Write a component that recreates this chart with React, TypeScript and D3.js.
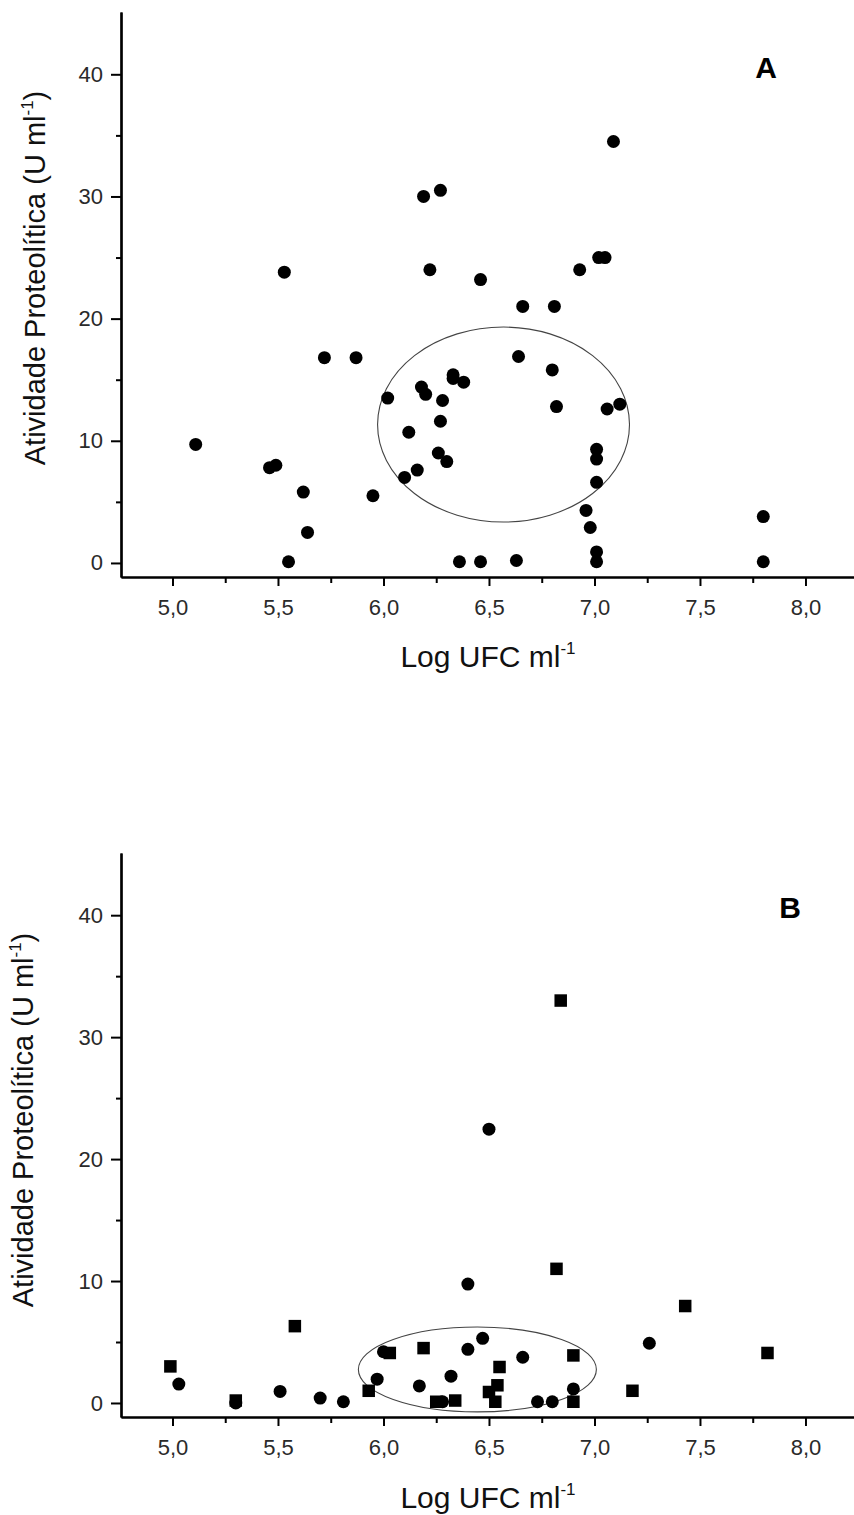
import * as React from "react";
import * as d3 from "d3";
import { useEffect, useRef } from "react";

// Panel A: all points are circles [log UFC, atividade]
const circlesA: [number, number][] = [
  [5.11, 9.7], [5.46, 7.8], [5.49, 8.0], [5.53, 23.8], [5.55, 0.1],
  [5.62, 5.8], [5.64, 2.5], [5.72, 16.8], [5.87, 16.8], [5.95, 5.5],
  [6.02, 13.5], [6.1, 7.0], [6.12, 10.7], [6.16, 7.6], [6.18, 14.4],
  [6.19, 30.0], [6.2, 13.8], [6.22, 24.0], [6.26, 9.0], [6.27, 30.5],
  [6.27, 11.6], [6.28, 13.3], [6.3, 8.3], [6.33, 15.4], [6.33, 15.1],
  [6.36, 0.1], [6.38, 14.8], [6.46, 0.1], [6.46, 23.2], [6.63, 0.2],
  [6.64, 16.9], [6.66, 21.0], [6.8, 15.8], [6.81, 21.0], [6.82, 12.8],
  [6.93, 24.0], [6.96, 4.3], [6.98, 2.9], [7.01, 0.1], [7.01, 0.9],
  [7.01, 6.6], [7.01, 8.5], [7.01, 9.3], [7.02, 25.0], [7.05, 25.0],
  [7.06, 12.6], [7.09, 34.5], [7.12, 13.0], [7.8, 3.8], [7.8, 0.1],
];

// Panel B: circles and squares
const circlesB: [number, number][] = [
  [5.03, 1.55], [5.3, 0.0], [5.51, 0.95], [5.7, 0.4], [5.81, 0.1],
  [5.97, 1.95], [6.0, 4.2], [6.17, 1.4], [6.28, 0.1], [6.32, 2.2],
  [6.4, 4.4], [6.4, 9.75], [6.47, 5.3], [6.5, 22.45], [6.66, 3.75],
  [6.73, 0.1], [6.8, 0.1], [6.9, 1.15], [7.26, 4.9],
];
const squaresB: [number, number][] = [
  [4.72, 0.2], [4.99, 3.0], [5.3, 0.2], [5.58, 6.3], [5.93, 1.0],
  [6.03, 4.1], [6.19, 4.5], [6.25, 0.1], [6.34, 0.2], [6.5, 0.9],
  [6.53, 0.1], [6.54, 1.45], [6.55, 2.95], [6.82, 11.0], [6.84, 33.0],
  [6.9, 3.9], [6.9, 0.1], [7.18, 1.0], [7.43, 7.95], [7.82, 4.1],
];

// ellipses in data units: [cx, cy, rx, ry]
const ellipseA = [6.569, 11.33, 0.597, 7.98];
const ellipseB = [6.445, 2.75, 0.564, 3.48];

const xMajor = [5.0, 5.5, 6.0, 6.5, 7.0, 7.5, 8.0];
const xMinor = [5.25, 5.75, 6.25, 6.75, 7.25, 7.75];
const yMajor = [0, 10, 20, 30, 40];
const yMinor = [5, 15, 25, 35];

const xDomain = [4.756, 8.23];
const yDomain = [-1.15, 45.1];

interface Panel {
  id: string;
  letter: string;
  top: number;
  bottom: number;
  circles: [number, number][];
  squares: [number, number][];
  ellipse: number[];
  letterPos: [number, number];
  yTitleX: number;
  yTitleY: number;
  xTitleY: number;
}

const panels: Panel[] = [
  {
    id: "a", letter: "A", top: 12, bottom: 577,
    circles: circlesA, squares: [], ellipse: ellipseA,
    letterPos: [766, 78], yTitleX: 45, yTitleY: 278, xTitleY: 667,
  },
  {
    id: "b", letter: "B", top: 853, bottom: 1417,
    circles: circlesB, squares: squaresB, ellipse: ellipseB,
    letterPos: [790, 918], yTitleX: 33, yTitleY: 1120, xTitleY: 1508,
  },
];

const FONT = 'Arial, "Liberation Sans", sans-serif';

function drawPanel(svg: d3.Selection<SVGSVGElement, unknown, null, undefined>, p: Panel) {
  const left = 121;
  const right = 854;
  const x = d3.scaleLinear().domain(xDomain).range([left, right]);
  const y = d3.scaleLinear().domain(yDomain).range([p.bottom, p.top]);

  const g = svg.append("g");

  g.append("clipPath")
    .attr("id", "clip-" + p.id)
    .append("rect")
    .attr("x", left)
    .attr("y", p.top)
    .attr("width", right - left)
    .attr("height", p.bottom - p.top);

  // axes
  const yAxis = d3.axisLeft(y).tickValues(yMajor).tickSize(10).tickSizeOuter(0).tickPadding(8);
  const yAxisMinor = d3.axisLeft(y).tickValues(yMinor).tickSize(5).tickSizeOuter(0).tickFormat(() => "");
  const xAxis = d3
    .axisBottom(x)
    .tickValues(xMajor)
    .tickSize(9)
    .tickSizeOuter(0)
    .tickPadding(13)
    .tickFormat((d) => (d as number).toFixed(1).replace(".", ","));
  const xAxisMinor = d3.axisBottom(x).tickValues(xMinor).tickSize(6).tickSizeOuter(0).tickFormat(() => "");

  const ya = g.append("g").attr("transform", `translate(${left},0)`).call(yAxis);
  g.append("g").attr("transform", `translate(${left},0)`).call(yAxisMinor);
  const xa = g.append("g").attr("transform", `translate(0,${p.bottom})`).call(xAxis);
  g.append("g").attr("transform", `translate(0,${p.bottom})`).call(xAxisMinor);

  g.selectAll(".domain").attr("stroke", "#000").attr("stroke-width", 2.2);
  g.selectAll(".tick line").attr("stroke", "#000").attr("stroke-width", 2);
  [ya, xa].forEach((a) =>
    a.selectAll("text").attr("font-family", FONT).attr("font-size", 22).attr("fill", "#2a2a2a")
  );

  // ellipse
  const [ecx, ecy, erx, ery] = p.ellipse;
  g.append("ellipse")
    .attr("cx", x(ecx))
    .attr("cy", y(ecy))
    .attr("rx", x(ecx + erx) - x(ecx))
    .attr("ry", y(ecy) - y(ecy + ery))
    .attr("fill", "none")
    .attr("stroke", "#444")
    .attr("stroke-width", 1.1);

  const marks = g.append("g").attr("clip-path", `url(#clip-${p.id})`);
  marks
    .selectAll("circle")
    .data(p.circles)
    .enter()
    .append("circle")
    .attr("cx", (d) => x(d[0]))
    .attr("cy", (d) => y(d[1]))
    .attr("r", 6.5)
    .attr("fill", "#000");
  const s = 12.5;
  marks
    .selectAll("rect")
    .data(p.squares)
    .enter()
    .append("rect")
    .attr("x", (d) => x(d[0]) - s / 2)
    .attr("y", (d) => y(d[1]) - s / 2)
    .attr("width", s)
    .attr("height", s)
    .attr("fill", "#000");

  // panel letter
  g.append("text")
    .attr("x", p.letterPos[0])
    .attr("y", p.letterPos[1])
    .attr("text-anchor", "middle")
    .attr("font-family", FONT)
    .attr("font-weight", "bold")
    .attr("font-size", 30)
    .text(p.letter);

  // y title
  const yt = g
    .append("text")
    .attr("transform", `translate(${p.yTitleX},${p.yTitleY}) rotate(-90)`)
    .attr("text-anchor", "middle")
    .attr("font-family", FONT)
    .attr("font-size", 29)
    .attr("fill", "#111");
  yt.append("tspan").text("Atividade Proteolítica (U ml");
  yt.append("tspan").attr("font-size", 17).attr("dy", -12).text("-1");
  yt.append("tspan").attr("dy", 12).text(")");

  // x title
  const xt = g
    .append("text")
    .attr("x", 488)
    .attr("y", p.xTitleY)
    .attr("text-anchor", "middle")
    .attr("font-family", FONT)
    .attr("font-size", 30)
    .attr("fill", "#111");
  xt.append("tspan").text("Log UFC ml");
  xt.append("tspan").attr("font-size", 17).attr("dy", -13).text("-1");
}

export default function App() {
  const svgRef = useRef<SVGSVGElement>(null);

  useEffect(() => {
    const svg = d3.select(svgRef.current!);
    svg.selectAll("*").remove();
    panels.forEach((p) => drawPanel(svg, p));
  }, []);

  return (
    <svg
      ref={svgRef}
      width={854}
      height={1515}
      style={{ position: "absolute", left: 0, top: 0, background: "#fff" }}
    />
  );
}
